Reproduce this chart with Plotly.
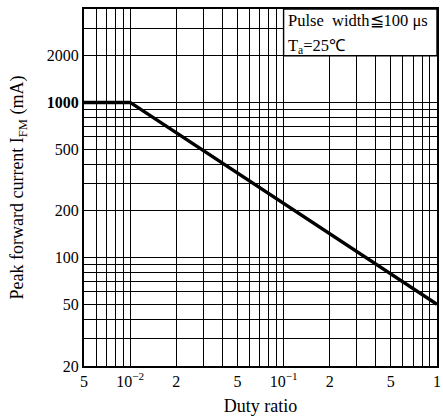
import plotly.graph_objects as go

# Data
duty = [0.005, 0.01, 1.0]
ifm = [1000, 1000, 50]

x_tickvals = [0.005, 0.01, 0.02, 0.05, 0.1, 0.2, 0.5, 1.0]
x_ticktext = ["5", "10<sup>−2</sup>", "2", "5", "10<sup>−1</sup>", "2", "5", "1"]
y_tickvals = [20, 50, 100, 200, 500, 1000, 2000]
y_ticktext = ["20", "50", "100", "200", "500", "<b>1000</b>", "2000"]

FONT = "Liberation Serif, Times New Roman, serif"

fig = go.Figure()
fig.add_trace(go.Scatter(x=duty, y=ifm, mode="lines",
                         line=dict(color="black", width=3.5),
                         showlegend=False, hoverinfo="skip"))

grid = dict(showgrid=True, gridcolor="black", gridwidth=1.4, ticks="", dtick="D1")

fig.update_xaxes(type="log", range=[-2.30103, 0],
                 tickvals=x_tickvals, ticktext=x_ticktext,
                 showgrid=True, gridcolor="black", gridwidth=1.4,
                 minor=grid,
                 showline=True, linecolor="black", linewidth=2, mirror=True,
                 ticks="", tickfont=dict(family=FONT, size=16, color="black"),
                 title=dict(text="Duty ratio", font=dict(family=FONT, size=18, color="black"),
                            standoff=10),
                 zeroline=False)
fig.update_yaxes(type="log", range=[1.30103, 3.60206],
                 tickvals=y_tickvals, ticktext=y_ticktext,
                 showgrid=True, gridcolor="black", gridwidth=1.4,
                 minor=grid,
                 showline=True, linecolor="black", linewidth=2, mirror=True,
                 ticks="", tickfont=dict(family=FONT, size=16, color="black"),
                 title=dict(text="Peak forward current I<sub>FM</sub> (mA)",
                            font=dict(family=FONT, size=18, color="black"),
                            standoff=18),
                 zeroline=False)

# Note box
fig.add_shape(type="rect", xref="x", yref="y", x0=0.1, x1=1.0, y0=2000, y1=4000,
              fillcolor="white", line=dict(color="black", width=1.4), layer="above")
fig.add_annotation(xref="paper", yref="paper", x=0.572, y=1.0, xanchor="left", yanchor="top",
                   text="Pulse  width≦100 μs", showarrow=False,
                   font=dict(family=FONT, size=16.5, color="black"))
fig.add_annotation(xref="paper", yref="paper", x=0.572, y=0.93, xanchor="left", yanchor="top",
                   text="T<sub>a</sub>=25℃", showarrow=False,
                   font=dict(family=FONT, size=16.5, color="black"))

fig.update_layout(width=443, height=420,
                  margin=dict(l=84, r=2, t=9, b=54),
                  plot_bgcolor="white", paper_bgcolor="white")

fig.write_html("out.html")
